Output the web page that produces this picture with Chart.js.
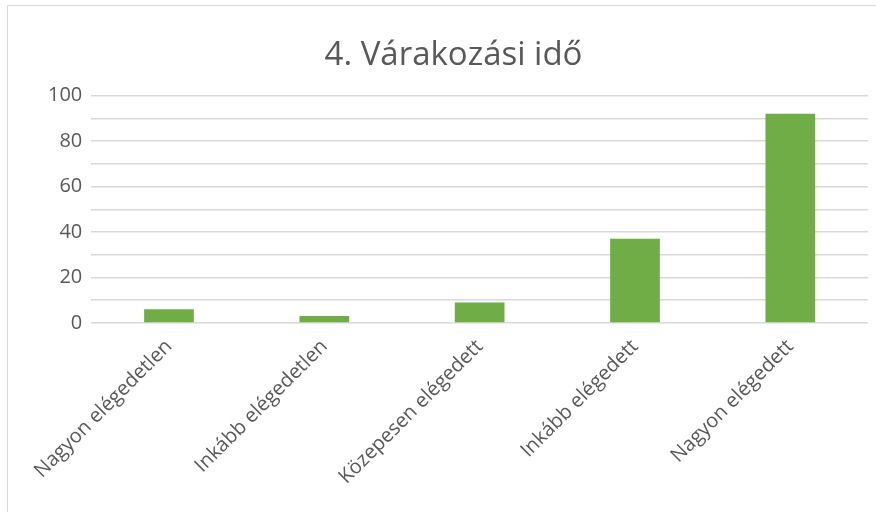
<!DOCTYPE html>
<html>
<head>
<meta charset="utf-8">
<script src="https://cdn.jsdelivr.net/npm/chart.js@4"></script>
<style>
  html, body { margin: 0; padding: 0; background: #fff; }
  #frame {
    position: absolute; left: 7px; top: 5px; width: 900px; height: 540px;
    border: 1.5px solid #d9d9d9; box-sizing: border-box;
  }
  #wrap { position: absolute; left: 0; top: 0; width: 876px; height: 512px; }
</style>
</head>
<body>
<div id="frame"></div>
<div id="wrap"><canvas id="chart" width="876" height="512"></canvas></div>
<script>
const categories = ['Nagyon elégedetlen', 'Inkább elégedetlen', 'Közepesen elégedett', 'Inkább elégedett', 'Nagyon elégedett'];
const values = [6, 3, 9, 37, 92];
const yTickLabels = ['0', '20', '40', '60', '80', '100'];

const textColor = '#595959';
const fontFamily = '"Open Sans", "Liberation Sans", sans-serif';

const ctx = document.getElementById('chart').getContext('2d');
new Chart(ctx, {
  type: 'bar',
  data: {
    labels: categories,
    datasets: [{
      label: '4. Várakozási idő',
      data: values,
      backgroundColor: '#70AD47',
      barPercentage: 0.32,
      categoryPercentage: 1
    }]
  },
  options: {
    responsive: false,
    animation: false,
    layout: { padding: { left: 39, right: 8, top: 36, bottom: 19 } },
    plugins: {
      legend: { display: false },
      tooltip: { enabled: false },
      title: {
        display: true,
        text: '4. Várakozási idő',
        color: textColor,
        font: { family: fontFamily, size: 33, weight: 'normal' },
        padding: { top: 0, bottom: 20 }
      }
    },
    scales: {
      x: {
        grid: { display: false },
        border: { display: false },
        ticks: {
          color: textColor,
          font: { family: fontFamily, size: 20 },
          minRotation: 45,
          maxRotation: 45,
          padding: 4
        }
      },
      y: {
        min: 0,
        max: 100,
        grid: { color: '#d9d9d9', lineWidth: 1.5, drawTicks: false },
        border: { display: false },
        ticks: {
          stepSize: 10,
          autoSkip: false,
          color: textColor,
          font: { family: fontFamily, size: 20 },
          padding: 9,
          callback: function (v) {
            return v % 20 === 0 ? yTickLabels[v / 20] : '';
          }
        }
      }
    }
  }
});
</script>
</body>
</html>
